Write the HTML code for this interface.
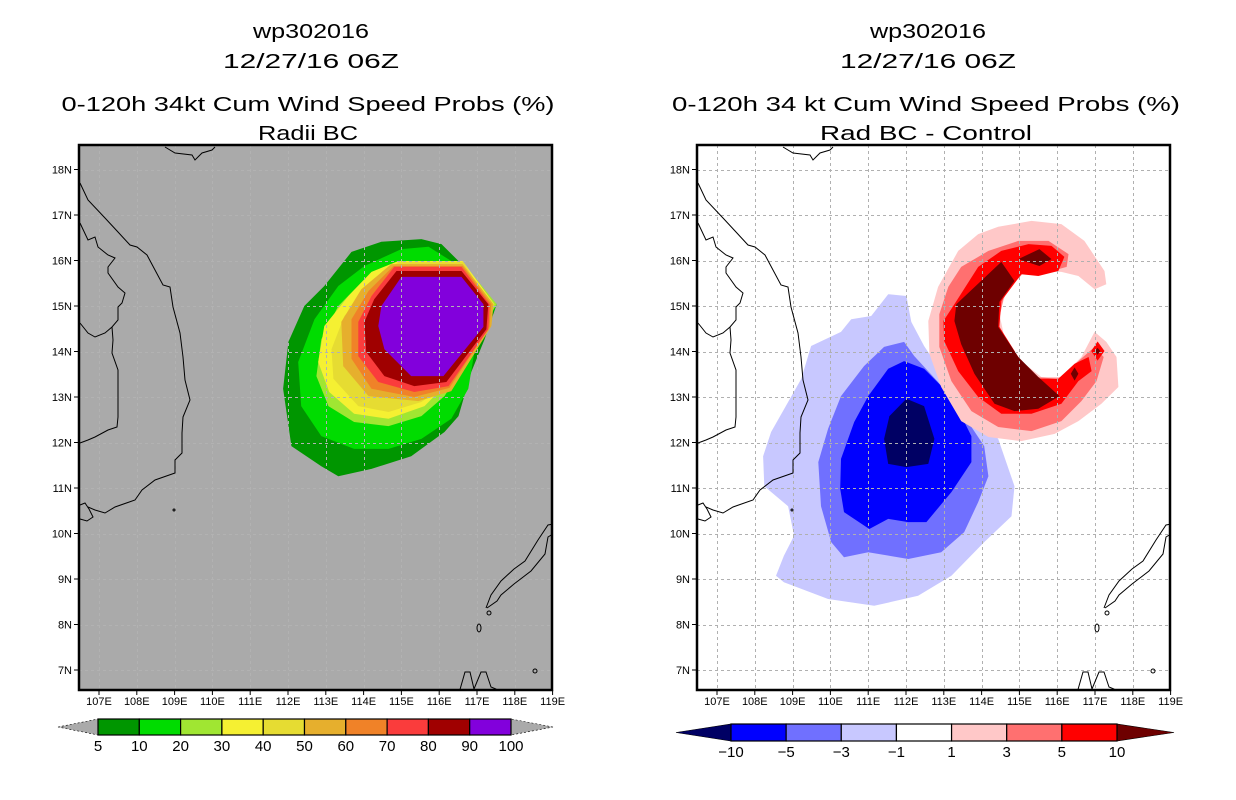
<!DOCTYPE html>
<html><head><meta charset="utf-8"><style>
html,body{margin:0;padding:0;background:#fff;}
svg{display:block;font-family:"Liberation Sans",sans-serif;}
</style></head><body>
<svg id="fig" width="1236" height="800" viewBox="0 0 1236 800" xmlns="http://www.w3.org/2000/svg">
<defs>
<clipPath id="clipL"><rect x="79" y="145" width="473" height="545"/></clipPath>
<clipPath id="clipR"><rect x="697" y="145" width="473" height="545"/></clipPath>
</defs>
<g font-size="20" text-anchor="middle">
<text x="311" y="38" textLength="116" lengthAdjust="spacingAndGlyphs">wp302016</text>
<text x="311" y="68" textLength="176" lengthAdjust="spacingAndGlyphs">12/27/16 06Z</text>
<text x="308" y="111" textLength="493" lengthAdjust="spacingAndGlyphs">0-120h 34kt Cum Wind Speed Probs (%)</text>
<text x="308" y="140" textLength="100" lengthAdjust="spacingAndGlyphs">Radii BC</text>
</g>
<g font-size="20" text-anchor="middle">
<text x="928" y="38" textLength="116" lengthAdjust="spacingAndGlyphs">wp302016</text>
<text x="928" y="68" textLength="176" lengthAdjust="spacingAndGlyphs">12/27/16 06Z</text>
<text x="926" y="111" textLength="508" lengthAdjust="spacingAndGlyphs">0-120h 34 kt Cum Wind Speed Probs (%)</text>
<text x="926" y="140" textLength="212" lengthAdjust="spacingAndGlyphs">Rad BC - Control</text>
</g>
<g id="panelL"></g>
<g id="panelR"></g>
<g id="cbarL"></g>
<g id="cbarR"></g>
</svg>
<script>
// ---- data: left panel probability contours (lon, lat) ----
const probLevels = [5,10,20,30,40,50,60,70,80,90];
const probColors = ["#009600","#00dc00","#a0e632","#f5f032","#e6dc32","#e6af2d","#f08228","#fa3c3c","#a00000","#8200dc"];
const probBarLabels = ["5","10","20","30","40","50","60","70","80","90","100"];
const prob5 = [[112.96,15.44],[113.68,16.19],[114.47,16.41],[115.53,16.47],[116.06,16.36],[116.51,15.99],[117.52,15.04],[117.2,14.27],[116.85,13.55],[116.51,12.58],[116.14,12.23],[115.26,11.70],[114.21,11.42],[113.33,11.26],[112.88,11.48],[112.09,11.92],[111.87,13.18],[112.01,14.21],[112.43,15.0]];
const prob10 = [[116.32,15.99],[117.52,15.04],[116.93,13.99],[116.77,13.18],[116.32,12.52],[115.53,12.08],[114.66,11.86],[113.75,11.86],[112.88,12.14],[112.35,12.80],[112.27,13.77],[112.70,14.71],[113.33,15.44],[114.02,15.88],[115.0,16.25],[115.72,16.30]];
const prob20 = [[116.59,15.99],[117.52,15.04],[117.12,14.49],[116.59,13.62],[116.14,13.02],[115.53,12.58],[114.66,12.36],[113.75,12.45],[113.07,12.80],[112.75,13.46],[112.88,14.27],[113.33,15.0],[114.02,15.59],[114.92,15.99]];
const prob30 = [[114.92,15.99],[116.62,15.99],[117.46,15.04],[117.2,14.49],[116.32,13.40],[115.61,12.80],[114.66,12.52],[113.75,12.63],[113.09,13.11],[112.80,13.77],[112.96,14.56],[113.6,15.22],[114.21,15.75]];
const prob40 = [[114.92,15.97],[116.64,15.97],[117.33,15.04],[117.3,14.56],[116.14,13.24],[115.53,12.89],[114.66,12.67],[113.86,12.80],[113.2,13.40],[113.15,14.05],[113.49,14.78],[114.21,15.44]];
const prob50 = [[114.73,15.92],[116.62,15.92],[117.44,15.04],[117.38,14.56],[116.32,13.13],[115.45,12.91],[114.13,13.02],[113.46,13.68],[113.41,14.65],[113.94,15.37]];
const prob60 = [[114.79,15.88],[116.62,15.88],[117.38,15.04],[117.33,14.54],[116.27,13.20],[115.34,13.0],[114.21,13.18],[113.68,13.84],[113.68,14.71],[114.13,15.33]];
const prob70 = [[114.81,15.86],[116.59,15.86],[117.33,15.04],[117.3,14.49],[116.25,13.24],[115.34,13.11],[114.39,13.33],[113.86,13.90],[113.86,14.65],[114.21,15.22]];
const prob80 = [[114.87,15.77],[116.59,15.77],[117.3,15.04],[117.25,14.49],[116.19,13.33],[115.34,13.24],[114.55,13.46],[114.07,13.99],[114.02,14.65],[114.28,15.15]];
const prob90 = [[115.0,15.64],[116.59,15.64],[117.17,15.04],[117.17,14.54],[116.11,13.46],[115.26,13.46],[114.55,14.05],[114.39,14.56],[114.47,15.0]];
const probPolys = [prob5,prob10,prob20,prob30,prob40,prob50,prob60,prob70,prob80,prob90];

// ---- data: right panel difference contours (lon, lat) ----
const diffColors = ["#000064","#0000ff","#7070ff","#c8c8ff","#ffffff","#ffc8c8","#ff7070","#ff0000","#6e0000"];
const diffBarLabels = ["-10","-5","-3","-1","1","3","5","10"];
const negM1 = [[111.53,15.26],[112.01,15.22],[112.14,14.65],[112.48,14.12],[113.01,13.46],[113.73,12.67],[114.44,12.08],[114.87,11.04],[114.79,10.38],[114.07,9.81],[113.2,9.07],[112.32,8.63],[111.16,8.41],[109.94,8.56],[108.77,8.93],[108.56,9.07],[108.77,9.51],[109.04,9.95],[108.88,10.60],[108.25,11.04],[108.22,11.70],[108.43,12.23],[109.23,13.40],[109.49,14.12],[110.28,14.43],[110.55,14.71],[111.08,14.78]];
const negM3 = [[111.42,14.10],[111.95,14.21],[112.22,13.90],[112.85,13.33],[113.54,12.58],[114.07,11.92],[114.18,11.26],[113.91,10.69],[113.54,10.03],[112.93,9.59],[112.06,9.44],[111.0,9.59],[110.36,9.48],[110.02,9.81],[109.75,10.60],[109.68,11.57],[109.94,12.30],[110.28,13.02],[110.89,13.68]];
const negM5 = [[111.95,13.79],[112.48,13.62],[113.20,13.02],[113.73,12.14],[113.73,11.57],[113.20,10.91],[112.54,10.25],[112.06,10.25],[111.53,10.32],[111.03,10.10],[110.36,10.47],[110.26,10.98],[110.28,11.64],[110.63,12.45],[111.0,13.02],[111.53,13.62]];
const negM10 = [[112.01,12.96],[112.48,12.80],[112.75,12.08],[112.59,11.53],[112.01,11.46],[111.53,11.53],[111.42,12.08],[111.56,12.58]];
const pos1 = [[114.44,16.74],[115.32,16.87],[116.11,16.80],[116.72,16.43],[117.25,15.77],[117.30,15.48],[116.99,15.37],[116.56,15.66],[116.11,15.75],[115.50,15.77],[115.05,15.70],[114.66,15.33],[114.47,14.82],[114.60,14.32],[115.05,13.79],[115.58,13.44],[116.11,13.44],[116.64,13.88],[116.99,14.43],[117.30,14.21],[117.57,13.88],[117.62,13.22],[117.17,12.85],[116.56,12.47],[115.93,12.19],[115.05,12.03],[114.18,12.12],[113.46,12.47],[112.93,13.22],[112.62,13.95],[112.59,14.67],[112.85,15.42],[113.38,16.21],[113.91,16.58]];
const pos3 = [[113.12,15.42],[113.46,15.86],[114.18,16.21],[114.97,16.43],[115.77,16.43],[116.30,16.14],[116.25,15.86],[115.77,15.75],[115.13,15.75],[114.60,15.26],[114.44,14.60],[114.79,13.95],[115.40,13.44],[116.03,13.40],[116.56,13.79],[116.99,14.10],[117.23,13.88],[117.04,13.35],[116.64,12.91],[116.11,12.47],[115.32,12.25],[114.44,12.34],[113.73,12.69],[113.20,13.35],[112.88,14.10],[112.88,14.82]];
const pos5 = [[113.28,15.04],[113.91,15.86],[114.52,16.21],[115.24,16.36],[115.85,16.32],[116.19,16.08],[116.03,15.77],[115.50,15.66],[115.05,15.70],[114.52,15.11],[114.47,14.54],[114.97,13.88],[115.50,13.40],[116.03,13.40],[116.46,13.73],[116.83,13.88],[116.91,13.57],[116.56,13.35],[116.11,12.85],[115.32,12.63],[114.52,12.63],[113.91,13.00],[113.38,13.57],[113.01,14.23],[112.99,14.67]];
const pos5b = [[117.07,14.22],[117.25,14.01],[117.07,13.80],[116.90,14.01]];
const pos10 = [[113.33,15.04],[114.52,15.97],[114.87,15.55],[114.47,15.09],[114.44,14.54],[114.97,13.88],[115.50,13.44],[116.06,13.02],[115.50,12.74],[114.87,12.69],[114.34,12.85],[113.81,13.51],[113.46,14.16],[113.28,14.67]];
const pos10b = [[114.97,16.03],[115.53,16.25],[115.85,16.03],[115.53,15.88]];
const pos10c = [[116.46,13.65],[116.56,13.51],[116.46,13.36],[116.36,13.51]];
const pos10d = [[117.07,14.08],[117.14,14.01],[117.07,13.93],[117.00,14.01]];
const diffPolys = [negM1,negM3,negM5,negM10,pos1,pos3,pos5,pos5b,pos10,pos10b,pos10c,pos10d];
const diffPolyColor = ["#c8c8ff","#7070ff","#0000ff","#000064","#ffc8c8","#ff7070","#ff0000","#ff0000","#6e0000","#6e0000","#6e0000","#6e0000"];

// ---- axes ----
const lonTicks = [107,108,109,110,111,112,113,114,115,116,117,118,119];
const latTicks = [7,8,9,10,11,12,13,14,15,16,17,18];

// coastline (panel-relative pixels; map background geography)
const coastMain = [[1,38],[9,55],[26,73],[39,87],[51,100],[58,102],[68,110],[76,125],[84,140],[91,142],[94,162],[101,188],[104,212],[106,235],[111,255],[104,272],[103,288],[103,308],[96,315],[96,328],[76,335],[63,345],[56,355],[36,362],[26,368],[16,365],[9,362]];
const coastBorder = [[1,78],[9,95],[16,92],[19,102],[29,110],[36,113],[29,122],[29,128],[39,142],[46,148],[43,158],[39,162],[39,175],[33,182],[26,188],[16,192],[9,188],[1,178]];
const coastBorder2 = [[33,182],[34,195],[33,208],[39,225],[39,245],[39,272],[38,282],[29,285],[16,292],[9,295],[1,298]];
const coastHainan = [[86,2],[96,8],[113,10],[116,15],[123,8],[133,5],[136,2]];
const coastPalawan = [[407,463],[412,450],[422,436],[435,424],[446,416],[459,395],[469,380],[474,379],[474,389],[469,392],[466,409],[452,426],[435,439],[422,450],[418,456],[408,463]];
const coastBorneo = [[380,548],[386,527],[391,527],[395,544],[402,527],[407,527],[412,542],[417,544],[420,548]];
const coastDelta = [[1,360],[6,358],[10,364],[14,372],[8,376],[1,374]];

const NS="http://www.w3.org/2000/svg";
function mk(tag, attrs, parent){const e=document.createElementNS(NS,tag);for(const k in attrs)e.setAttribute(k,attrs[k]);if(parent)parent.appendChild(e);return e;}
function xScale(lon, off){return 99+off+(lon-107)*37.8;}
function yScale(lat){return 670-(lat-7)*45.5;}
function polyPts(poly, off){return poly.map(p=>xScale(p[0],off).toFixed(1)+","+yScale(p[1]).toFixed(1)).join(" ");}

function drawPanel(g, off, bg, clipId, gridColor, polys, colorsFor, namePrefix){
  const x0=79+off, y0=145, w=473, h=545;
  const bgr=mk("rect",{x:x0,y:y0,width:w,height:h,fill:bg},g);
  
  
  const cg=mk("g",{"clip-path":"url(#"+clipId+")"},g);
  
  
  polys.forEach((poly,i)=>{
    const p=mk("polygon",{points:polyPts(poly,off),fill:colorsFor[i]},cg);
    
    
  });
  // grid
  const gg=mk("g",{stroke:gridColor,"stroke-width":1,"stroke-dasharray":"3,3",fill:"none"},g);
  
  
  lonTicks.forEach(lo=>{const x=Math.round(xScale(lo,off))+0.5; if(x>x0+1&&x<x0+w-1){const l=mk("line",{x1:x,y1:y0,x2:x,y2:y0+h},gg);
    
    }});
  latTicks.forEach(la=>{const y=Math.round(yScale(la))+0.5;const l=mk("line",{x1:x0,y1:y,x2:x0+w,y2:y},gg);
    
    });
  // coast
  const coastOuter=mk("g",{"clip-path":"url(#"+clipId+")"},g);
  
  
  const coast=mk("g",{transform:"translate("+x0+","+y0+")",stroke:"#000","stroke-width":1,fill:"none"},coastOuter);
  
  
  [coastMain,coastBorder,coastBorder2,coastHainan,coastPalawan,coastBorneo,coastDelta].forEach(c=>{
    const pl=mk("polyline",{points:c.map(p=>p.join(",")).join(" ")},coast);
    
    
  });
  [[400,483,2,4],[410,468,2,2],[456,526,2,2],[95,365,1,1]].forEach(e=>{
    const el=mk("ellipse",{cx:e[0],cy:e[1],rx:e[2],ry:e[3]},coast);
    
    
  });
  // frame
  const fr=mk("rect",{x:x0,y:y0,width:w,height:h,fill:"none",stroke:"#000","stroke-width":2.5},g);
  
  
  // ticks & labels
  latTicks.forEach(la=>{
    const y=yScale(la);
    const t=mk("line",{x1:x0-5,y1:y,x2:x0,y2:y,stroke:"#000","stroke-width":1},g);
    
    
    const tx=mk("text",{x:x0-7,y:y+4,"font-size":11,"text-anchor":"end"},g);
    tx.textContent=la+"N";
    
    
  });
  lonTicks.forEach(lo=>{
    const x=xScale(lo,off);
    const t=mk("line",{x1:x,y1:y0+h,x2:x,y2:y0+h+5,stroke:"#000","stroke-width":1},g);
    
    
    const tx=mk("text",{x:x,y:y0+h+15,"font-size":11,"text-anchor":"middle"},g);
    tx.textContent=lo+"E";
    
    
  });
}
drawPanel(document.getElementById("panelL"),0,"#aaaaaa","clipL","#b2b2b2",probPolys,probColors,"left");
drawPanel(document.getElementById("panelR"),618,"#ffffff","clipR","#b0b0b0",diffPolys,diffPolyColor,"right");

function drawBar(g, x0, x1, y0, y1, tipL, tipR, colors, labels, triL, triR, triDash, labelOffset){
  const n=colors.length, bw=(x1-x0)/n, ym=(y0+y1)/2;
  const tl=mk("polygon",{points:`${tipL},${ym} ${x0},${y0} ${x0},${y1}`,fill:triL,stroke:"#000","stroke-width":0.6,"stroke-dasharray":triDash?"2,2":"none"},g);
  
  
  const tr=mk("polygon",{points:`${tipR},${ym} ${x1},${y0} ${x1},${y1}`,fill:triR,stroke:"#000","stroke-width":0.6,"stroke-dasharray":triDash?"2,2":"none"},g);
  
  
  colors.forEach((c,i)=>{
    const r=mk("rect",{x:x0+i*bw,y:y0,width:bw,height:y1-y0,fill:c,stroke:"#000","stroke-width":1.2},g);
    
    
  });
  labels.forEach((lb,i)=>{
    const t=mk("text",{x:x0+(i+labelOffset)*bw,y:y1+16,"font-size":15,"text-anchor":"middle"},g);
    t.textContent=lb.replace("-","\u2212");
    
    
  });
}
drawBar(document.getElementById("cbarL"),98,511,719,735,58,553,probColors,probBarLabels,"#aaaaaa","#aaaaaa",true,0);
drawBar(document.getElementById("cbarR"),731,1117,724,741,676,1174,diffColors.slice(1,8),diffBarLabels,"#000064","#6e0000",false,0);
</script>
</body></html>
